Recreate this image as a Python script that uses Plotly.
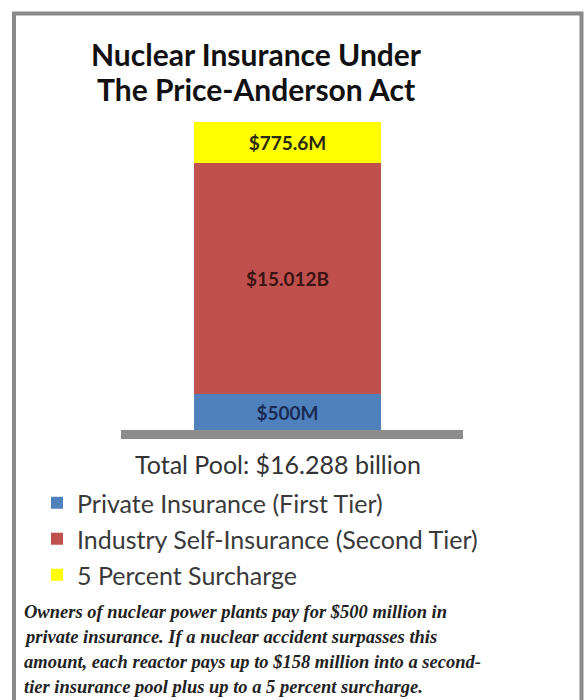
import plotly.graph_objects as go

# ---- data ----
categories = ["Private Insurance (First Tier)",
              "Industry Self-Insurance (Second Tier)",
              "5 Percent Surcharge"]
value_labels = ["$500M", "$15.012B", "$775.6M"]
# the graphic is not drawn to scale: share of bar height each tier occupies as drawn (%)
drawn_share_pct = [11.7, 75.0, 13.3]
colors = ["#4F81BD", "#C0504D", "#FFFF00"]
label_colors = ["#1B2A55", "#3A1412", "#2A2A10"]
title_lines = ["Nuclear Insurance Under", "The Price-Anderson Act"]
total_text = "Total Pool: $16.288 billion"
footnote_lines = [
    "Owners of nuclear power plants pay for $500 million in",
    "private insurance. If a nuclear accident surpasses this",
    "amount, each reactor pays up to $158 million into a second-",
    "tier insurance pool plus up to a 5 percent surcharge.",
]

W, H = 585, 700
fig = go.Figure()
for i, cat in enumerate(categories):
    fig.add_trace(go.Bar(
        x=[0], y=[drawn_share_pct[i]], name=cat,
        marker=dict(color=colors[i], line=dict(width=0)),
        width=0.5468,
        text=[value_labels[i]], textposition="inside", insidetextanchor="middle",
        textfont=dict(family="Lato", size=19, color=label_colors[i], weight="bold"),
        legendgroup=f"g{i}", hoverinfo="skip",
    ))

def px(x):
    return x / W

def py(y):
    return 1 - y / H

fig.update_layout(
    width=W, height=H, margin=dict(l=0, r=0, t=0, b=0),
    paper_bgcolor="white", plot_bgcolor="white",
    barmode="stack", bargap=0,
    xaxis=dict(domain=[px(121), px(463)], range=[-0.4868, 0.5132],
               showgrid=False, zeroline=False, showticklabels=False,
               showline=True, linecolor="#8C8C8C", linewidth=9, ticks=""),
    yaxis=dict(domain=[py(430), py(122)], range=[0, 100],
               showgrid=False, zeroline=False, showticklabels=False, showline=False),
    showlegend=True,
    legend=dict(x=px(37), y=py(480), xanchor="left", yanchor="top",
                traceorder="grouped", tracegroupgap=0.5,
                font=dict(family="Lato", size=25, color="#3A3A3A"),
                bgcolor="rgba(0,0,0,0)", itemclick=False),
    shapes=[dict(type="rect", xref="paper", yref="paper",
                 x0=px(14), x1=px(581.5), y0=-0.05, y1=py(13.5),
                 line=dict(color="#8A8A8A", width=4), fillcolor="rgba(0,0,0,0)")],
)

ann = []
for j, t in enumerate(title_lines):
    ann.append(dict(text=t, x=px(256), y=py([54, 89][j]), xref="paper", yref="paper",
                    showarrow=False, xanchor="center", yanchor="middle",
                    font=dict(family="Lato", size=30, color="#111111", weight="bold")))
ann.append(dict(text=total_text, x=px(278), y=py(464), xref="paper", yref="paper",
                showarrow=False, xanchor="center", yanchor="middle",
                font=dict(family="Lato", size=25, color="#333333")))
for j, t in enumerate(footnote_lines):
    ann.append(dict(text=t, x=px(22), y=py(612 + 25 * j), xref="paper", yref="paper",
                    showarrow=False, xanchor="left", yanchor="middle",
                    font=dict(family="Liberation Serif", size=18.5, color="#222222",
                              style="italic", weight="bold")))
fig.update_layout(annotations=ann)

fig.write_html("out.html", config={"displayModeBar": False},
               post_script="document.body.style.margin='0';"
                           "document.body.style.overflow='hidden';")
